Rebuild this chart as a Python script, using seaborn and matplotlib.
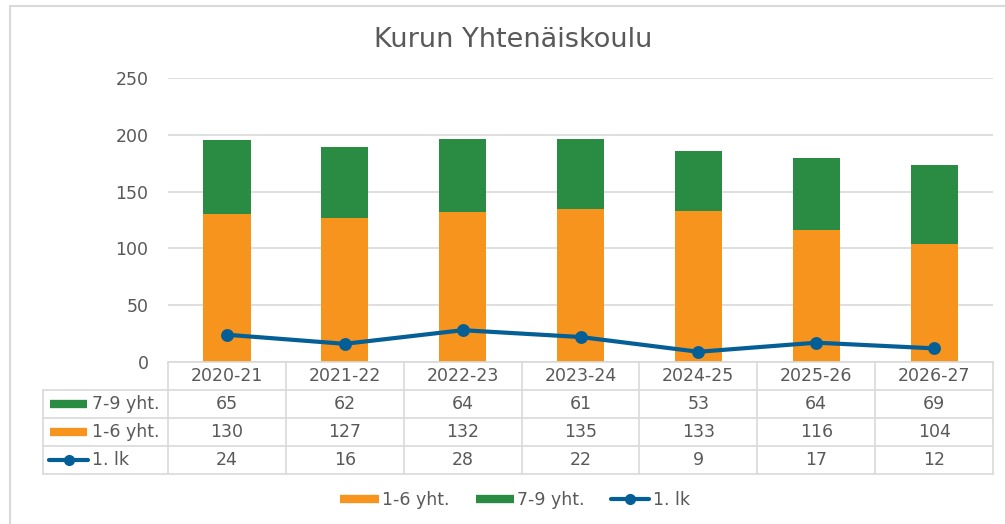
import matplotlib
matplotlib.use('Agg')
import matplotlib.pyplot as plt
from matplotlib.lines import Line2D
import seaborn as sns
import pandas as pd

# Data
years = ['2020-21', '2021-22', '2022-23', '2023-24', '2024-25', '2025-26', '2026-27']
g79 = [65, 62, 64, 61, 53, 64, 69]
g16 = [130, 127, 132, 135, 133, 116, 104]
lk1 = [24, 16, 28, 22, 9, 17, 12]

orange = '#F7941D'
green = '#2A8B42'
blue = '#035F96'
grey_txt = '#595959'
grid_col = '#D9D9D9'
FS = 12.5

sns.set_style('white')
plt.rcParams['font.family'] = ['DejaVu Sans']

W, H = 1005, 524
fig = plt.figure(figsize=(W / 100, H / 100), dpi=100)

def fx(px):
    return px / W

def fy(py):
    return 1 - py / H

# plot area in pixels
x0, x1 = 168, 993
y_top, y_base = 78, 362
ax = fig.add_axes([fx(x0), fy(y_base), fx(x1 - x0), (y_base - y_top) / H])

df = pd.DataFrame({'year': years, 'g16': g16, 'g79': g79, 'lk1': lk1})
df['total'] = df['g16'] + df['g79']

sns.barplot(data=df, x='year', y='total', color=green, width=0.4, saturation=1,
            linewidth=0, ax=ax)
sns.barplot(data=df, x='year', y='g16', color=orange, width=0.4, saturation=1,
            linewidth=0, ax=ax)
sns.pointplot(data=df, x='year', y='lk1', color=blue, markers='o', markersize=7,
              linewidth=3, ax=ax)

ax.set_ylim(0, 250)
ax.set_xlim(-0.5, len(years) - 0.5)
ax.set_yticks(range(0, 251, 50))
ax.yaxis.grid(True, color=grid_col, linewidth=1.2)
ax.set_axisbelow(True)
ax.set_xticks([])
ax.set_xlabel('')
ax.set_ylabel('')
for s in ax.spines.values():
    s.set_visible(False)
ax.tick_params(axis='y', length=0, pad=14, labelsize=FS, labelcolor=grey_txt)

# title
fig.text(fx(513), fy(40), 'Kurun Yhtenäiskoulu', ha='center', va='center',
         fontsize=19.5, color=grey_txt)

# outer chart border
fig.add_artist(Line2D([fx(10), fx(10)], [fy(6), fy(524)], transform=fig.transFigure,
                      color=grid_col, lw=1.5))
fig.add_artist(Line2D([fx(10), fx(1005)], [fy(6), fy(6)], transform=fig.transFigure,
                      color=grid_col, lw=1.5))

# data table
col_w = (x1 - x0) / len(years)
row_h = 28
lab_x0 = 43
rows = [('7-9 yht.', g79, 'bar', green),
        ('1-6 yht.', g16, 'bar', orange),
        ('1. lk', lk1, 'line', blue)]
tbl_bottom = y_base + row_h * (len(rows) + 1)
tbl_col = '#D9D9D9'

def hline(y, xa, xb):
    fig.add_artist(Line2D([fx(xa), fx(xb)], [fy(y), fy(y)], transform=fig.transFigure,
                          color=tbl_col, lw=1.2))

def vline(x, ya, yb):
    fig.add_artist(Line2D([fx(x), fx(x)], [fy(ya), fy(yb)], transform=fig.transFigure,
                          color=tbl_col, lw=1.2))

hline(y_base, x0, x1)
for r in range(1, len(rows) + 2):
    hline(y_base + r * row_h, lab_x0, x1)
vline(lab_x0, y_base + row_h, tbl_bottom)
for c in range(len(years) + 1):
    vline(x0 + c * col_w, y_base, tbl_bottom)

for c, yr in enumerate(years):
    fig.text(fx(x0 + (c + 0.5) * col_w), fy(y_base + row_h / 2), yr, ha='center',
             va='center', fontsize=FS, color=grey_txt)

for r, (name, vals, kind, col) in enumerate(rows):
    yc = y_base + (r + 1.5) * row_h
    if kind == 'bar':
        fig.add_artist(Line2D([fx(50), fx(87)], [fy(yc), fy(yc)], transform=fig.transFigure,
                              color=col, lw=6, solid_capstyle='butt'))
    else:
        fig.add_artist(Line2D([fx(49), fx(88)], [fy(yc), fy(yc)], transform=fig.transFigure,
                              color=col, lw=3, solid_capstyle='round'))
        fig.add_artist(Line2D([fx(68.5)], [fy(yc)], transform=fig.transFigure,
                              color=col, marker='o', markersize=7))
    fig.text(fx(92), fy(yc), name, ha='left', va='center', fontsize=FS, color=grey_txt)
    for c, v in enumerate(vals):
        fig.text(fx(x0 + (c + 0.5) * col_w), fy(yc), str(v), ha='center', va='center',
                 fontsize=FS, color=grey_txt)

# legend at bottom
handles = [Line2D([], [], color=orange, lw=6, solid_capstyle='butt'),
           Line2D([], [], color=green, lw=6, solid_capstyle='butt'),
           Line2D([], [], color=blue, lw=3, marker='o', markersize=7)]
fig.legend(handles, ['1-6 yht.', '7-9 yht.', '1. lk'], loc='center',
           bbox_to_anchor=(fx(515), fy(500)), ncol=3, frameon=False, fontsize=FS,
           handlelength=2.2, handletextpad=0.2, columnspacing=1.5, labelcolor=grey_txt)

fig.savefig('out.png', dpi=100)
